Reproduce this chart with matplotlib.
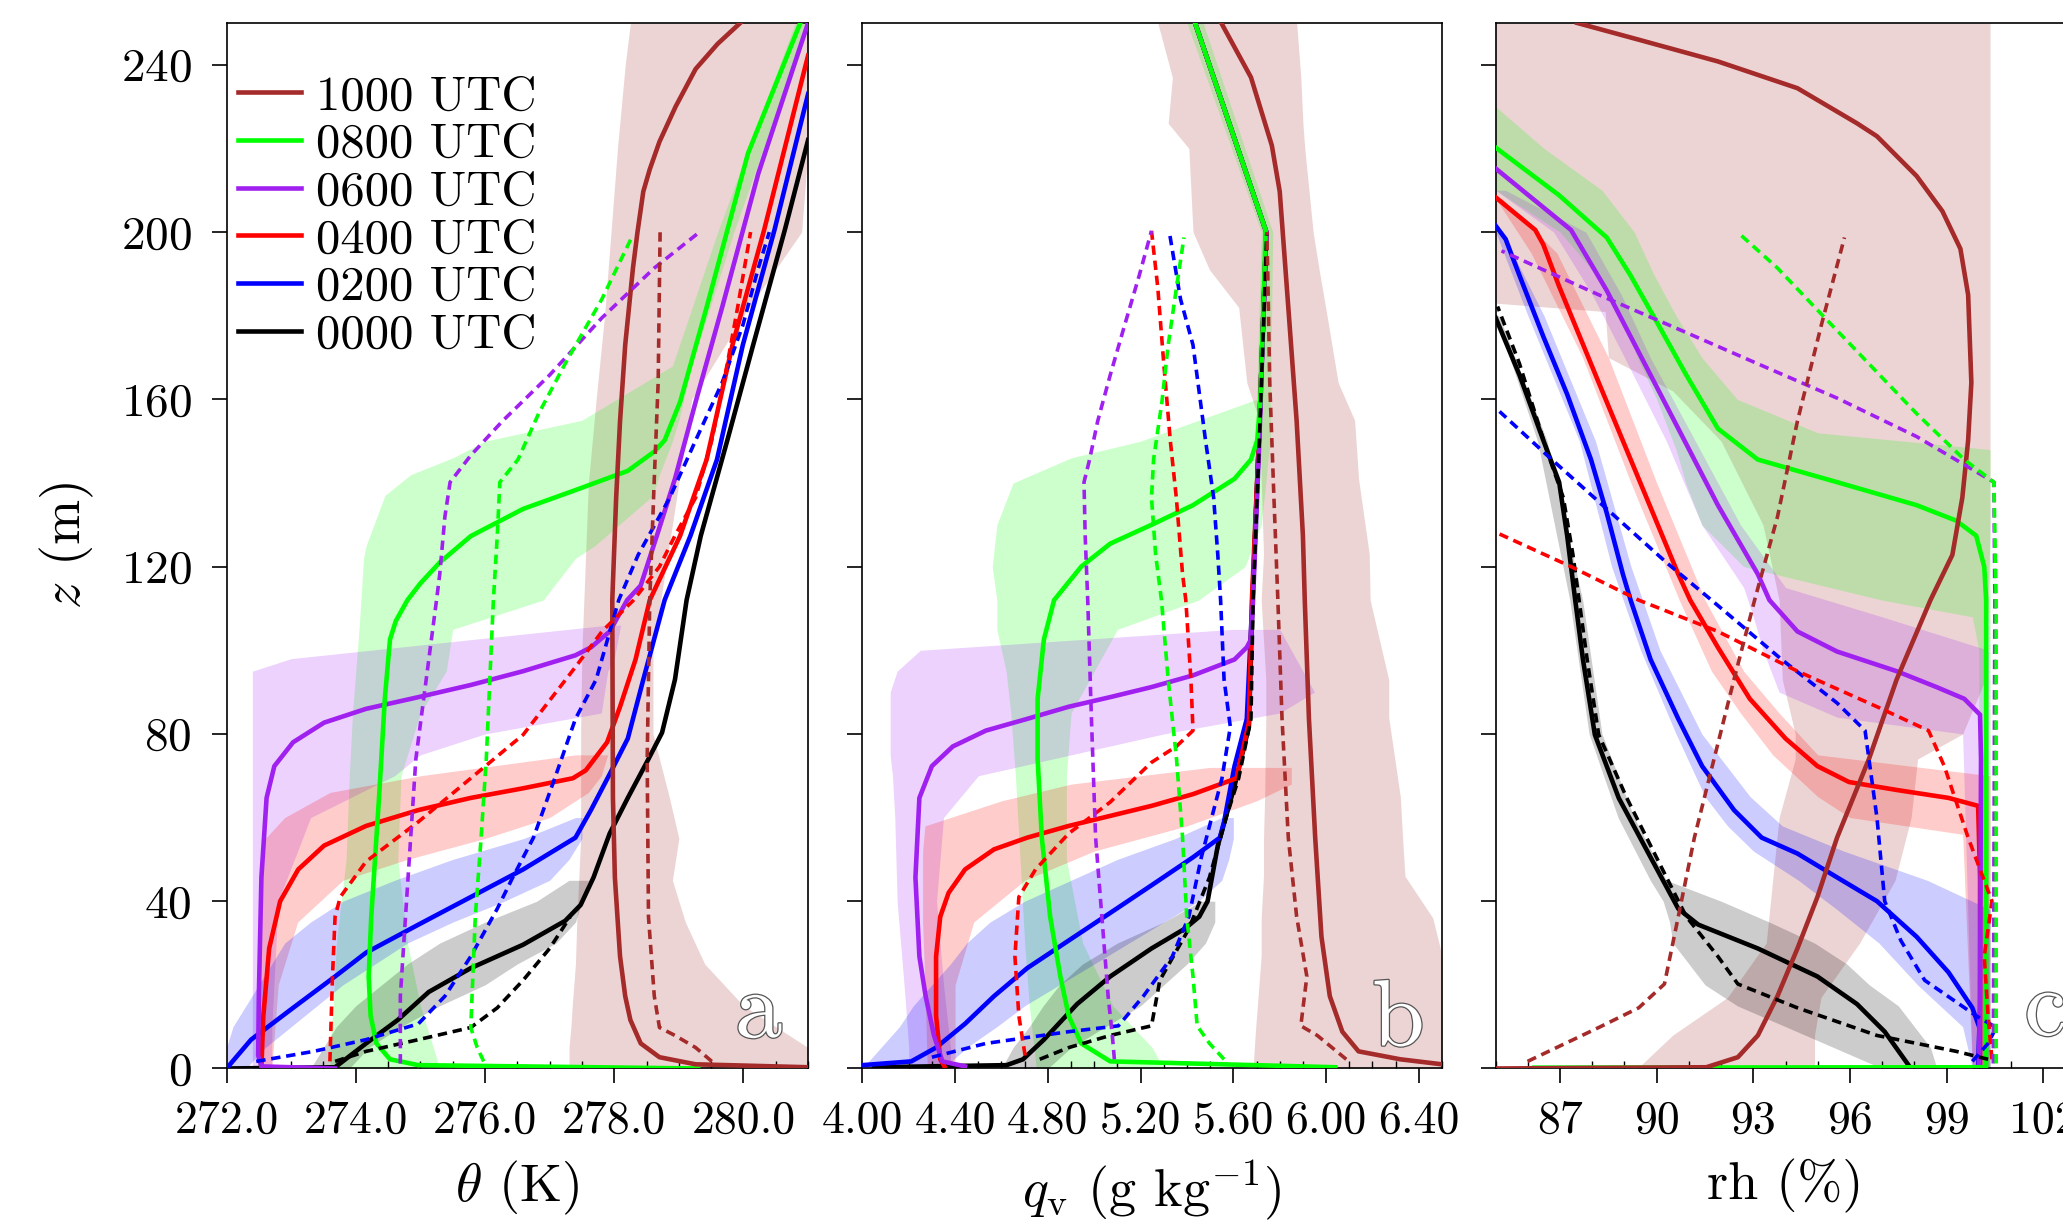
import numpy as np
import matplotlib
matplotlib.use('Agg')
import matplotlib.pyplot as plt
import matplotlib.patheffects as pe
from matplotlib.ticker import MultipleLocator, FormatStrFormatter

plt.rcParams['font.family'] = 'serif'
plt.rcParams['font.serif'] = ['cmr10']
plt.rcParams['mathtext.fontset'] = 'cm'
plt.rcParams['axes.unicode_minus'] = False
plt.rcParams['axes.formatter.use_mathtext'] = True

times = ['1000', '0800', '0600', '0400', '0200', '0000']
colors = {'1000': '#a52a2a', '0800': '#00ff00', '0600': '#a020f0',
          '0400': '#ff0000', '0200': '#0000ff', '0000': '#000000'}

# ---------------- panel a: potential temperature (K), pairs [theta, z] ----------------
th_sol_1000 = [[281.0, 0.3], [279.26, 1.0], [278.70, 2.7], [278.41, 6], [278.25, 11.6], [278.17, 17.3],
               [278.09, 26.8], [278.01, 45.7], [277.98, 64.7], [277.97, 112], [278.03, 136.5],
               [278.09, 154.8], [278.17, 173], [278.29, 191.4], [278.36, 200], [278.45, 209.7],
               [278.55, 215], [278.70, 221.6], [278.95, 230], [279.26, 239], [279.6, 245], [279.95, 250]]
th_sol_0800 = [[279.3, 0.0], [274.97, 0.8], [274.53, 2.2], [274.32, 6], [274.23, 12.6], [274.20, 22],
               [274.24, 36.3], [274.36, 64.7], [274.45, 88.4], [274.53, 102.6], [274.62, 107],
               [274.8, 112], [275.0, 116], [275.30, 121], [275.78, 127.3], [276.59, 133.8],
               [277.40, 138.3], [278.21, 142.9], [278.62, 147.5], [278.78, 150.2], [279.02, 159.4],
               [279.43, 182], [280.07, 218.8], [280.88, 250]]
th_sol_0600 = [[273.68, 0.0], [272.54, 0.5], [272.49, 3.1], [272.5, 17.3], [272.54, 45.7], [272.62, 64.7],
               [272.74, 72.3], [273.03, 78], [273.51, 82.7], [274.16, 86], [274.97, 88.8], [275.78, 91.7],
               [276.59, 95], [277.40, 98.8], [277.64, 100.7], [277.93, 104.5], [278.2, 112],
               [278.41, 115.5], [278.66, 127.4], [278.94, 141], [279.26, 159.4], [279.67, 182],
               [280.23, 214], [281.0, 250]]
th_sol_0400 = [[272.54, 0.5], [272.57, 12.6], [272.66, 28.7], [272.83, 40], [273.11, 47.6], [273.51, 53.3],
               [274.16, 58], [274.97, 61.8], [275.78, 64.7], [276.59, 67], [277.36, 69.4], [277.56, 71.3],
               [277.89, 78], [278.09, 86.5], [278.33, 97.8], [278.55, 112], [279.02, 127.4],
               [279.43, 145.6], [279.83, 173], [280.32, 200.5], [281.0, 242.2]]
th_sol_0200 = [[272.0, 0], [272.38, 6.9], [273.03, 14.5], [273.68, 22], [274.16, 27.7], [274.97, 34.4],
               [275.78, 41], [276.59, 47.6], [277.40, 55.2], [277.64, 61.8], [277.93, 70.4], [278.21, 78.9],
               [278.45, 93], [278.78, 112], [279.18, 127.4], [279.59, 145.6], [279.99, 173],
               [280.48, 200.5], [281.0, 233]]
th_sol_0000 = [[272.0, 0], [273.68, 0.3], [274.16, 6], [274.65, 11.6], [275.13, 18.3], [275.78, 24],
               [276.59, 29.6], [277.24, 35.3], [277.48, 39.1], [277.68, 45.7], [277.93, 56.2],
               [278.21, 64.7], [278.53, 74], [278.74, 80.3], [278.94, 93], [279.12, 112], [279.34, 127.4],
               [279.75, 150.2], [280.15, 173], [280.64, 200.5], [281.0, 222]]

th_dsh_1000 = [[279.51, 1.7], [279.26, 5], [278.94, 7.9], [278.70, 9.8], [278.62, 17.3], [278.53, 36.3],
               [278.51, 74], [278.55, 112], [278.62, 141], [278.68, 164], [278.71, 200]]
th_dsh_0800 = [[275.98, 1.7], [275.88, 5], [275.78, 9.8], [275.85, 36.3], [275.94, 55.2], [276.02, 74],
               [276.13, 112], [276.19, 127.4], [276.23, 140.2], [276.51, 145.6], [276.83, 156.6],
               [277.24, 168.5], [277.81, 184], [278.27, 198.7]]
th_dsh_0600 = [[274.69, 1.2], [274.69, 17.3], [274.77, 36.3], [274.85, 55.2], [274.93, 74], [275.09, 93],
               [275.25, 112], [275.30, 118.2], [275.38, 132], [275.46, 140.2], [275.78, 146.6],
               [276.27, 154.8], [277.00, 165.8], [277.81, 179.5], [278.62, 191.4], [279.32, 200]]
th_dsh_0400 = [[273.60, 1.7], [273.64, 22], [273.68, 36.3], [273.76, 41], [274.16, 49.5], [274.97, 59],
               [275.78, 69.4], [276.59, 79.8], [277.40, 96], [277.81, 104.5], [278.3, 112], [278.70, 120],
               [278.94, 127.4], [279.26, 136.5], [279.51, 150.2], [279.75, 168.5], [279.91, 182],
               [280.11, 200]]
th_dsh_0200 = [[272.46, 1.7], [273.35, 4.1], [274.16, 6.9], [274.97, 10.7], [275.38, 17.3], [275.78, 26.8],
               [276.19, 38.2], [276.43, 45.7], [276.75, 55.2], [277.08, 69.4], [277.40, 83.6],
               [277.72, 93], [278.07, 112], [278.37, 122.8], [278.86, 136.5], [279.26, 150.2],
               [279.67, 164], [279.99, 177.7], [280.23, 191.4], [280.4, 200]]
th_dsh_0000 = [[273.68, 1.7], [274.16, 4.1], [274.97, 6.9], [275.78, 9.8], [276.19, 14.5], [276.59, 21.1],
               [277.0, 28.7], [277.32, 36.3]]

# bands: [z, low, high]
th_band_1000 = [[0, 277.3, 281.0], [5, 277.3, 281.0], [10, 277.33, 280.5], [15, 277.35, 280.0],
                [25, 277.4, 279.4], [35, 277.42, 279.1], [45, 277.45, 278.9], [55, 277.48, 279.0],
                [65, 277.48, 278.85], [80, 277.48, 278.6], [100, 277.5, 278.6], [120, 277.55, 278.8],
                [140, 277.6, 279.0], [160, 277.72, 279.2], [180, 277.85, 280.0], [200, 277.95, 280.9],
                [220, 278.05, 281.0], [240, 278.17, 281.0], [250, 278.25, 281.0]]
th_band_0800 = [[0, 273.6, 275.3], [5, 273.6, 275.2], [15, 273.65, 275.0], [30, 273.7, 274.8],
                [50, 273.85, 274.65], [70, 273.9, 274.7], [85, 273.95, 275.0], [95, 274.0, 275.4],
                [105, 274.05, 275.5], [112, 274.08, 276.9], [122, 274.12, 277.4], [125, 274.16, 277.7],
                [137, 274.45, 278.6], [142, 274.85, 278.7], [146, 275.5, 278.8], [150, 276.0, 278.9],
                [155, 277.5, 279.0], [168, 278.9, 279.2], [200, 279.6, 279.85], [250, 280.8, 281.0]]
th_band_0600 = [[0, 272.4, 272.7], [10, 272.4, 272.7], [40, 272.4, 272.8], [60, 272.4, 273.3],
                [70, 272.4, 274.6], [75, 272.4, 275.0], [80, 272.4, 276.0], [85, 272.4, 277.8],
                [95, 272.4, 277.9], [98, 273.0, 278.0], [106, 277.9, 278.1]]
th_band_0400 = [[0, 272.5, 272.7], [20, 272.5, 272.8], [35, 272.5, 273.1], [45, 272.55, 273.8],
                [50, 272.55, 274.8], [55, 272.6, 276.0], [60, 272.9, 277.0], [66, 273.6, 277.6],
                [70, 275.0, 277.8], [75, 277.4, 277.9]]
th_band_0200 = [[0, 272.0, 272.3], [5, 272.0, 272.6], [10, 272.1, 273.0], [15, 272.3, 273.4],
                [20, 272.5, 273.8], [25, 272.7, 274.3], [30, 272.9, 274.8], [35, 273.3, 275.5],
                [40, 273.8, 276.3], [45, 274.6, 277.0], [50, 275.5, 277.3], [55, 276.6, 277.5],
                [60, 277.4, 277.5]]
th_band_0000 = [[0, 273.3, 273.9], [5, 273.5, 274.2], [10, 273.7, 274.7], [15, 274.0, 275.3],
                [20, 274.4, 276.0], [25, 274.8, 276.5], [30, 275.3, 277.1], [35, 276.0, 277.4],
                [40, 276.8, 277.5], [45, 277.3, 277.6]]

# ---------------- panel b: specific humidity (g/kg) ----------------
qv_sol_1000 = [[6.50, 1.0], [6.32, 2.2], [6.14, 4.1], [6.07, 8.8], [6.016, 17.3], [5.98, 31.5],
               [5.953, 55.2], [5.926, 83.6], [5.908, 112], [5.90, 127.4], [5.873, 154.8], [5.837, 182],
               [5.80, 209.7], [5.766, 220.7], [5.676, 237], [5.548, 250]]
qv_sol_0800 = [[6.04, 0.3], [5.069, 1.7], [4.944, 6], [4.89, 12.6], [4.854, 22], [4.81, 36.3],
               [4.774, 55.2], [4.756, 74], [4.756, 88.4], [4.783, 102.6], [4.827, 112], [4.944, 120],
               [5.069, 125.5], [5.247, 130], [5.426, 134.7], [5.605, 141], [5.676, 145.6],
               [5.703, 150.2], [5.716, 159.4], [5.73, 182], [5.739, 200.5], [5.435, 250]]
qv_sol_0600 = [[4.443, 0.5], [4.345, 1.7], [4.309, 7.9], [4.273, 17.3], [4.246, 26.8], [4.229, 45.7],
               [4.246, 64.7], [4.30, 72.3], [4.39, 77], [4.533, 80.8], [4.711, 83.6], [4.89, 86.5],
               [5.069, 88.8], [5.247, 91.2], [5.426, 94], [5.605, 97.8], [5.658, 100.7], [5.676, 102.6],
               [5.685, 112], [5.712, 150], [5.742, 200], [5.435, 250]]
qv_sol_0400 = [[4.354, 0.5], [4.336, 2.2], [4.318, 12.6], [4.318, 26.8], [4.336, 36.3], [4.372, 42],
               [4.443, 47.6], [4.568, 52.4], [4.711, 55.2], [4.89, 58], [5.069, 60.4], [5.247, 62.8],
               [5.426, 65.6], [5.614, 69.4], [5.64, 76], [5.667, 82.7], [5.68, 112], [5.71, 150],
               [5.742, 200], [5.435, 250]]
qv_sol_0200 = [[4.0, 0.8], [4.211, 1.7], [4.318, 5], [4.443, 10.7], [4.568, 17.3], [4.711, 24],
               [4.89, 30.6], [5.069, 37.2], [5.247, 43.8], [5.426, 50.5], [5.542, 55.2], [5.56, 59],
               [5.605, 72.3], [5.658, 83.6], [5.682, 112], [5.71, 150], [5.742, 200], [5.435, 250]]
qv_sol_0000 = [[4.05, 0.3], [4.622, 0.8], [4.693, 2.2], [4.783, 6.9], [4.926, 15.4], [5.069, 22],
               [5.247, 28.7], [5.39, 33.4], [5.453, 36.3], [5.489, 40], [5.533, 53.3], [5.605, 67.5],
               [5.667, 81.7], [5.683, 112], [5.71, 150], [5.742, 200], [5.435, 250]]

qv_dsh_1000 = [[6.087, 2.2], [5.962, 7.9], [5.891, 10.2], [5.917, 22], [5.873, 36.3], [5.837, 55.2],
               [5.81, 83.6], [5.792, 112], [5.775, 136.5], [5.757, 164], [5.748, 191.4], [5.744, 200]]
qv_dsh_0800 = [[5.56, 2.2], [5.497, 6], [5.444, 10.2], [5.426, 22], [5.399, 36.3], [5.381, 55.2],
               [5.355, 74], [5.319, 93], [5.29, 112], [5.265, 122.8], [5.247, 136.5], [5.256, 145.6],
               [5.292, 159.4], [5.319, 173], [5.355, 186.8], [5.387, 198.7]]
qv_dsh_0600 = [[5.087, 2.2], [5.078, 7.9], [5.06, 17.3], [5.033, 36.3], [5.006, 55.2], [4.988, 83.6],
               [4.972, 112], [4.961, 127.4], [4.956, 140.2], [4.98, 145.6], [5.015, 154.8],
               [5.069, 165.8], [5.131, 177.7], [5.194, 189.6], [5.247, 200.3]]
qv_dsh_0400 = [[4.702, 3.1], [4.675, 12.6], [4.658, 26.8], [4.675, 41], [4.747, 47.6], [4.89, 56.2],
               [5.069, 63.7], [5.247, 73.2], [5.354, 77], [5.426, 80.8], [5.417, 93], [5.395, 112],
               [5.381, 118.2], [5.354, 136.5], [5.328, 150.2], [5.30, 168.5], [5.274, 186.8],
               [5.247, 200.3]]
qv_dsh_0200 = [[4.30, 2.7], [4.533, 6], [4.89, 8.8], [5.104, 10.2], [5.212, 17.3], [5.337, 26.8],
               [5.408, 36.3], [5.462, 50.5], [5.551, 69.4], [5.587, 81.7], [5.56, 93], [5.545, 112],
               [5.533, 122.8], [5.515, 136.5], [5.48, 150.2], [5.426, 173], [5.372, 184], [5.324, 200]]
qv_dsh_0000 = [[4.765, 2.2], [4.89, 5], [5.069, 7.9], [5.247, 10.2], [5.283, 21.1], [5.408, 33.4],
               [5.497, 45.7], [5.569, 60], [5.623, 69.4], [5.676, 83.6], [5.685, 112], [5.712, 150.2],
               [5.73, 177.7], [5.744, 199.6]]

qv_band_1000 = [[0, 5.685, 6.5], [8, 5.694, 6.5], [27, 5.72, 6.5], [36, 5.72, 6.46], [46, 5.73, 6.34],
                [55, 5.73, 6.33], [65, 5.735, 6.32], [84, 5.74, 6.27], [93, 5.74, 6.27], [112, 5.72, 6.19],
                [123, 5.73, 6.186], [141, 5.72, 6.14], [155, 5.712, 6.123], [164, 5.658, 6.052],
                [182, 5.623, 5.998], [191, 5.497, 5.97], [200, 5.426, 5.944], [220, 5.408, 5.908],
                [226, 5.319, 5.90], [237, 5.337, 5.891], [250, 5.274, 5.873]]
qv_band_0800 = [[0, 4.75, 5.3], [5, 4.74, 5.25], [15, 4.72, 5.08], [30, 4.7, 4.95], [50, 4.68, 4.88],
                [70, 4.66, 4.88], [85, 4.64, 4.9], [95, 4.62, 5.0], [105, 4.58, 5.1], [112, 4.58, 5.45],
                [120, 4.56, 5.65], [130, 4.58, 5.72], [140, 4.65, 5.74], [146, 4.9, 5.75],
                [150, 5.2, 5.76], [160, 5.70, 5.76], [200, 5.72, 5.77], [250, 5.40, 5.47]]
qv_band_0600 = [[0, 4.2, 4.38], [5, 4.2, 4.38], [20, 4.18, 4.35], [40, 4.15, 4.32], [60, 4.14, 4.35],
                [70, 4.13, 4.5], [75, 4.12, 4.9], [80, 4.12, 5.3], [85, 4.12, 5.8], [90, 4.12, 5.95],
                [95, 4.15, 5.9], [100, 4.25, 5.85], [105, 5.6, 5.8]]
qv_band_0400 = [[0, 4.28, 4.4], [20, 4.27, 4.4], [35, 4.26, 4.48], [45, 4.26, 4.7], [52, 4.26, 5.0],
                [58, 4.27, 5.4], [64, 4.6, 5.7], [68, 4.9, 5.85], [72, 5.5, 5.85]]
qv_band_0200 = [[0, 4.0, 4.35], [5, 4.08, 4.45], [10, 4.16, 4.58], [15, 4.22, 4.7], [20, 4.3, 4.85],
                [25, 4.38, 5.0], [30, 4.45, 5.15], [35, 4.55, 5.3], [40, 4.7, 5.45], [45, 4.9, 5.55],
                [50, 5.1, 5.58], [55, 5.35, 5.6], [60, 5.55, 5.6]]
qv_band_0000 = [[0, 4.6, 4.8], [5, 4.65, 4.9], [10, 4.72, 5.05], [15, 4.78, 5.2], [20, 4.85, 5.3],
                [25, 4.95, 5.4], [30, 5.1, 5.48], [35, 5.3, 5.52], [40, 5.46, 5.52]]

# ---------------- panel c: relative humidity (%) ----------------
rh_sol_1000 = [[85, 0], [91.54, 0.3], [92.52, 2.7], [93.14, 7.9], [93.75, 17.3], [94.37, 28.7],
               [94.99, 41], [95.6, 55.2], [96.59, 74], [97.45, 93], [98.5, 112], [99.18, 122.8],
               [99.49, 136.5], [99.67, 150.2], [99.77, 164], [99.67, 185], [99.43, 196],
               [98.87, 205], [98.07, 213.4], [96.84, 222.9], [96.22, 226], [94.37, 234.4],
               [91.9, 240.8], [89.44, 246], [87.53, 250]]
rh_sol_0800 = [[86.2, 0.2], [100.23, 0.3], [100.23, 112], [100.17, 120], [99.92, 127.4], [99.3, 131],
               [98.07, 134.7], [95.6, 140.2], [93.14, 145.6], [91.9, 153], [90.92, 165.8],
               [90.06, 177.7], [89.19, 189.6], [88.45, 198.7], [86.97, 208.8], [85.0, 220.2]]
rh_sol_0600 = [[100.0, 0.3], [100.04, 17.3], [100.07, 74], [100.04, 84.6], [99.55, 88.4], [98.69, 91.2],
               [97.45, 95], [95.6, 99.7], [94.37, 104.5], [93.5, 112], [93.14, 118.2], [91.9, 134.7],
               [90.67, 153], [89.44, 171.3], [88.45, 186], [87.34, 200.5], [85, 215.2]]
rh_sol_0400 = [[100.04, 0.3], [100.04, 45.7], [99.98, 62.8], [99.06, 64.7], [97.45, 66.6], [95.97, 68.5],
               [94.99, 72.3], [94.0, 78.9], [92.89, 88.4], [91.9, 100.7], [91.04, 112], [90.67, 118.2],
               [89.44, 141], [88.2, 164], [86.97, 187], [86.48, 197], [86.23, 200.5], [85, 208.3]]
rh_sol_0200 = [[99.98, 0.3], [100.02, 9.8], [99.8, 14.5], [99.06, 23], [98.07, 31.5], [96.84, 40],
               [95.6, 45.7], [94.37, 51.4], [93.26, 55.2], [92.4, 61.8], [91.41, 72.3], [90.67, 83.6],
               [89.81, 97.8], [89.19, 112], [88.95, 118.2], [88.45, 132.8], [87.96, 145.6],
               [87.22, 161.2], [86.48, 175], [85.74, 189.6], [85.31, 198.3], [85, 201.5]]
rh_sol_0000 = [[97.82, 0.8], [97.08, 8.8], [96.22, 15.4], [94.99, 22], [93.14, 28.7], [91.29, 34.4],
               [90.67, 38.2], [89.81, 50.5], [88.82, 64.7], [88.08, 79.8], [87.71, 97.8], [87.47, 112],
               [87.22, 127.4], [86.97, 140.2], [86.48, 150.2], [85.74, 165.8], [85, 179.5]]

rh_dsh_1000 = [[85.99, 1.7], [88.2, 9.8], [89.44, 14.5], [90.24, 20.2], [90.67, 36.3], [91.17, 55.2],
               [91.78, 74], [92.4, 93], [93.04, 112], [93.75, 131.9], [94.37, 154.8], [95.11, 177.7],
               [95.83, 198.7]]
rh_dsh_0800 = [[100.54, 1.2], [100.54, 112], [100.47, 140.2], [99.55, 145.6], [98.07, 156.6],
               [96.59, 168.5], [95.11, 180.4], [93.75, 191.4], [92.58, 199.5]]
rh_dsh_0600 = [[100.45, 1.2], [100.5, 112], [100.47, 140.2], [98.07, 151.1], [95.6, 160.3],
               [93.14, 168.5], [90.67, 176.8], [88.2, 185], [85.18, 195.5]]
rh_dsh_0400 = [[100.41, 2.2], [100.29, 12.6], [100.17, 26.8], [100.41, 40], [99.67, 55.2], [98.93, 72.3],
               [98.44, 80.8], [96.84, 86.5], [94.37, 95], [91.9, 104.5], [89.44, 112], [87.34, 120],
               [85.12, 127.8]]
rh_dsh_0200 = [[99.8, 1.7], [100.29, 6], [100.54, 9.8], [99.92, 12.6], [98.32, 21.1], [97.58, 30.6],
               [97.08, 40], [96.84, 59.9], [96.59, 74], [96.47, 80.8], [95.6, 87.4], [93.88, 97.8],
               [91.7, 112], [90.3, 121], [88.45, 133.8], [86.6, 146.6], [85.12, 157.1]]
rh_dsh_0000 = [[100.29, 2.2], [99.3, 4.1], [96.84, 7.9], [94.37, 14.5], [92.52, 20.2], [91.9, 26.8],
               [90.92, 36.3], [90.18, 47.6], [89.07, 64.7], [88.2, 79.8], [87.84, 97.8], [87.59, 112],
               [87.4, 122.8], [87.1, 136.5], [86.6, 147.5], [85.74, 168.5], [85.06, 182.2]]

rh_band_1000 = [[0, 89.4, 94.9], [8, 90.5, 94.9], [17, 92.2, 95.1], [30, 93.4, 96.3], [45, 93.6, 97.4],
                [60, 93.8, 97.9], [74, 94.3, 98.1], [80, 94.3, 99.5], [93, 93.9, 100.2], [112, 93.8, 100.3],
                [130, 93.3, 100.35], [150, 92.0, 100.35], [162, 90.5, 100.35], [170, 88.5, 100.35],
                [181, 88.4, 100.35], [183, 85, 100.35], [250, 85, 100.35]]
rh_band_0800 = [[0, 100.0, 100.35], [100, 100.0, 100.35], [108, 99.8, 100.35], [112, 97.0, 100.35],
                [120, 92.7, 100.35], [130, 91.4, 100.35], [140, 90.9, 100.35], [148, 90.6, 100.35],
                [152, 90.4, 95.0], [160, 90.0, 92.5], [170, 89.4, 91.4], [180, 88.9, 90.6],
                [190, 88.1, 89.9], [200, 87.0, 89.3], [210, 85, 88.3], [220, 85, 86.5], [230, 85, 85.0]]
rh_band_0600 = [[0, 99.8, 100.3], [80, 99.5, 100.3], [84, 95.6, 100.3], [90, 93.8, 100.3],
                [100, 93.3, 100.3], [108, 93.0, 97.0], [115, 92.7, 94.0], [130, 91.4, 92.6],
                [150, 90.3, 91.2], [170, 89.0, 89.8], [185, 88.0, 88.9], [200, 86.8, 87.8], [210, 85, 85.3]]
rh_band_0400 = [[0, 99.8, 100.35], [56, 99.5, 100.35], [60, 96.0, 100.35], [65, 95.0, 100.35],
                [70, 94.3, 100.35], [75, 93.6, 95.0], [85, 92.6, 93.8], [95, 91.7, 92.7], [112, 90.7, 91.5],
                [140, 89.2, 90.0], [170, 87.7, 88.5], [195, 86.1, 86.9], [208, 85, 85.2]]
rh_band_0200 = [[0, 99.8, 100.35], [10, 99.5, 100.35], [20, 98.1, 100.35], [30, 96.9, 100.35],
                [38, 95.6, 100.35], [45, 94.4, 98.4], [52, 93.0, 95.8], [58, 92.2, 93.9], [65, 91.5, 92.9],
                [80, 90.6, 91.4], [100, 89.5, 90.1], [120, 88.6, 89.2], [150, 87.6, 88.1],
                [180, 86.0, 86.5], [200, 85, 85.2]]
rh_band_0000 = [[0, 97.0, 98.7], [5, 95.5, 98.5], [10, 94.0, 98.0], [15, 92.5, 97.5], [20, 91.5, 96.6],
                [25, 91.0, 95.9], [30, 90.5, 94.9], [35, 90.4, 93.5], [40, 90.2, 92.0], [45, 89.8, 90.3],
                [60, 88.8, 89.3], [80, 87.9, 88.3], [112, 87.3, 87.7], [150, 86.3, 86.6], [180, 85, 85.1]]

th_sol = dict(zip(times, [th_sol_1000, th_sol_0800, th_sol_0600, th_sol_0400, th_sol_0200, th_sol_0000]))
th_dsh = dict(zip(times, [th_dsh_1000, th_dsh_0800, th_dsh_0600, th_dsh_0400, th_dsh_0200, th_dsh_0000]))
th_band = dict(zip(times, [th_band_1000, th_band_0800, th_band_0600, th_band_0400, th_band_0200, th_band_0000]))
qv_sol = dict(zip(times, [qv_sol_1000, qv_sol_0800, qv_sol_0600, qv_sol_0400, qv_sol_0200, qv_sol_0000]))
qv_dsh = dict(zip(times, [qv_dsh_1000, qv_dsh_0800, qv_dsh_0600, qv_dsh_0400, qv_dsh_0200, qv_dsh_0000]))
qv_band = dict(zip(times, [qv_band_1000, qv_band_0800, qv_band_0600, qv_band_0400, qv_band_0200, qv_band_0000]))
rh_sol = dict(zip(times, [rh_sol_1000, rh_sol_0800, rh_sol_0600, rh_sol_0400, rh_sol_0200, rh_sol_0000]))
rh_dsh = dict(zip(times, [rh_dsh_1000, rh_dsh_0800, rh_dsh_0600, rh_dsh_0400, rh_dsh_0200, rh_dsh_0000]))
rh_band = dict(zip(times, [rh_band_1000, rh_band_0800, rh_band_0600, rh_band_0400, rh_band_0200, rh_band_0000]))


def draw(ax, sol, dsh, band):
    for t in times:
        b = np.array(band[t])
        ax.fill_betweenx(b[:, 0], b[:, 1], b[:, 2], color=colors[t], alpha=0.2, lw=0, zorder=1)
    hs = {}
    for t in reversed(times):
        s = np.array(sol[t])
        hs[t], = ax.plot(s[:, 0], s[:, 1], color=colors[t], lw=3.3, zorder=3)
    for t in reversed(times):
        d = np.array(dsh[t])
        ax.plot(d[:, 0], d[:, 1], color=colors[t], lw=2.6, ls=(0, (2.6, 1.6)), zorder=4)
    return hs


fig = plt.figure(figsize=(20.63, 12.21), dpi=100)
ax1 = fig.add_axes([0.1098, 0.1249, 0.2819, 0.8563])
ax2 = fig.add_axes([0.4180, 0.1249, 0.2810, 0.8563])
ax3 = fig.add_axes([0.7250, 0.1249, 0.2810, 0.8563])

hs = draw(ax1, th_sol, th_dsh, th_band)
draw(ax2, qv_sol, qv_dsh, qv_band)
draw(ax3, rh_sol, rh_dsh, rh_band)

ax1.set_xlim(272, 281)
ax1.xaxis.set_major_locator(MultipleLocator(2))
ax1.xaxis.set_minor_locator(MultipleLocator(0.5))
ax1.xaxis.set_major_formatter(FormatStrFormatter('%.1f'))
ax2.set_xlim(4.0, 6.5)
ax2.xaxis.set_major_locator(MultipleLocator(0.4))
ax2.xaxis.set_minor_locator(MultipleLocator(0.1))
ax2.xaxis.set_major_formatter(FormatStrFormatter('%.2f'))
ax3.set_xlim(85, 103)
ax3.xaxis.set_major_locator(MultipleLocator(3))
ax3.xaxis.set_minor_locator(MultipleLocator(1))
ax3.xaxis.set_major_formatter(FormatStrFormatter('%d'))

for ax in (ax1, ax2, ax3):
    ax.set_ylim(0, 250)
    ax.yaxis.set_major_locator(MultipleLocator(40))
    ax.tick_params(axis='x', which='major', direction='out', length=11, width=1.2, labelsize=33, pad=12)
    ax.tick_params(axis='x', which='minor', direction='in', length=5, width=1.0)
    ax.tick_params(axis='y', which='major', direction='out', length=11, width=1.2, labelsize=34, pad=14)
    for sp in ax.spines.values():
        sp.set_linewidth(1.2)
ax2.tick_params(axis='y', labelleft=False)
ax3.tick_params(axis='y', labelleft=False)

ax1.set_xlabel(r'$\theta$ (K)', fontsize=39, labelpad=12)
ax2.set_xlabel(r'$q_{\rm v}$ (g kg$^{-1}$)', fontsize=39, labelpad=12)
ax3.set_xlabel('rh (%)', fontsize=39, labelpad=12)
ax1.set_ylabel(r'$z$ (m)', fontsize=39, labelpad=18)

outline = [pe.withStroke(linewidth=1.8, foreground='#555555')]
ax1.text(0.955, 0.03, 'a', transform=ax1.transAxes, ha='right', va='baseline', fontsize=68,
         color='white', path_effects=outline, zorder=6)
ax2.text(0.97, 0.022, 'b', transform=ax2.transAxes, ha='right', va='baseline', fontsize=68,
         color='white', path_effects=outline, zorder=6)
ax3.text(0.912, 0.032, 'c', transform=ax3.transAxes, ha='left', va='baseline', fontsize=68,
         color='white', path_effects=outline, zorder=6)

ax1.legend([hs[t] for t in times], [t + ' UTC' for t in times], loc='upper left',
           bbox_to_anchor=(0.02, 0.950), frameon=False, fontsize=35, handlelength=1.3,
           handletextpad=0.3, labelspacing=0.07, borderpad=0, borderaxespad=0)

fig.savefig('out.png', dpi=100)
